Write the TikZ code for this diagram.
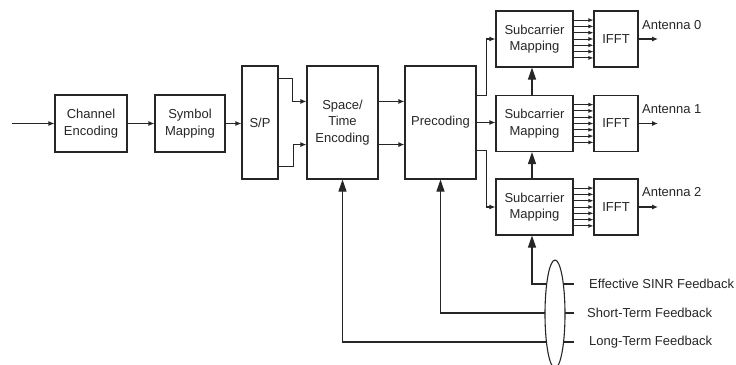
\documentclass[tikz,border=0pt]{standalone}
\usepackage{fontspec}
\setmainfont{Liberation Sans}
\usetikzlibrary{arrows.meta,shapes.geometric,calc}

\tikzset{
  blk/.style={draw=black!85, line width=1.1pt, rectangle, inner sep=1pt, align=center,
              font=\fontsize{13}{16.5}\selectfont, text=black!85},
  wire/.style={draw=black!85, line width=1.1pt},
  arr/.style={wire, -{Latex[length=6pt,width=5pt]}},
  thinarr/.style={draw=black!85, line width=0.9pt, -{Latex[length=5pt,width=4pt]}},
  bigarr/.style={wire, -{Triangle[length=12pt,width=8pt]}},
  lbl/.style={font=\fontsize{13}{16}\selectfont, text=black!85, inner sep=0pt, anchor=west},
}

\begin{document}
\begin{tikzpicture}[x=1pt,y=-1pt]
\useasboundingbox (0,0) rectangle (736,364);
\clip (0,0) rectangle (736,364);

% transmitter chain
\node[blk, minimum width=72pt, minimum height=57pt] (ce) at (91,123.5) {Channel\\Encoding};
\node[blk, minimum width=70pt, minimum height=57pt] (sm) at (190,123.5) {Symbol\\Mapping};
\node[blk, minimum width=36pt, minimum height=113pt] (sp) at (260,122.5) {S/P};
\node[blk, minimum width=71pt, minimum height=113pt] (st) at (342.5,122.5) {Space/\\Time\\Encoding};
\node[blk, minimum width=71pt, minimum height=113pt] (pc) at (440.5,122.5) {Precoding};

% per-antenna branches
\foreach \k/\y in {0/39,1/123.5,2/207}{
  \node[blk, minimum width=77pt, minimum height=56pt] (sc\k) at (534.5,\y) {Subcarrier\\Mapping};
  \node[blk, minimum width=44pt, minimum height=56pt] (if\k) at (616,\y) {IFFT};
  \foreach \i in {-3,...,3}{
    \draw[thinarr] ($(sc\k.east)+(0,\i*6.3)$) -- ($(if\k.west)+(0,\i*6.3)$);
  }
  \coordinate (out\k) at (658,\y);
  \draw[arr] (if\k.east) -- (out\k);
}
\node[lbl] (ant0) at (642,25) {Antenna 0};
\node[lbl] (ant1) at (642,109) {Antenna 1};
\node[lbl] (ant2) at (642,192) {Antenna 2};

% forward connections
\coordinate (in) at (12,123.5);
\draw[arr] (in) -- (ce.west);
\draw[arr] (ce.east) -- (sm.west);
\draw[arr] (sm.east) -- (sm.east -| sp.west);

\draw[arr] ($(sp.north east)+(0,13)$) -- ++(14,0) |- ($(st.north west)+(0,36)$);
\draw[arr] ($(sp.south east)+(0,-13)$) -- ++(15,0) |- ($(st.south west)+(0,-35)$);

\draw[arr] ($(st.north east)+(0,36)$) -- ($(pc.north west)+(0,36)$);
\draw[arr] ($(st.south east)+(0,-35)$) -- ($(pc.south west)+(0,-35)$);

\draw[arr] ($(pc.north east)+(0,30)$) -- ++(10,0) |- (sc0.west);
\draw[arr] (pc.east) -- (pc.east -| sc1.west);
\draw[arr] ($(pc.south east)+(0,-29)$) -- ++(10,0) |- (sc2.west);

\draw[bigarr] ([xshift=-2.5pt]sc1.north) -- ([xshift=-2.5pt]sc0.south);
\draw[bigarr] ([xshift=-2.5pt]sc2.north) -- ([xshift=-2.5pt]sc1.south);

% feedback paths
\node[lbl] (fb1) at (589,284) {Effective SINR Feedback};
\node[lbl] (fb2) at (587,313) {Short-Term Feedback};
\node[lbl] (fb3) at (589,342) {Long-Term Feedback};
\coordinate (t1) at (574,284);
\coordinate (t2) at (574,313);
\coordinate (t3) at (574,342);
\draw[bigarr] (t1) -| ([xshift=-2.5pt]sc2.south);
\draw[bigarr] (t2) -| (pc.south);
\draw[bigarr] (t3) -| (st.south);

\node[draw=black!85, line width=1.1pt, ellipse, fill=white, minimum width=20pt,
      minimum height=108pt, inner sep=0pt] (bundle) at (555,314) {};
\end{tikzpicture}
\end{document}
